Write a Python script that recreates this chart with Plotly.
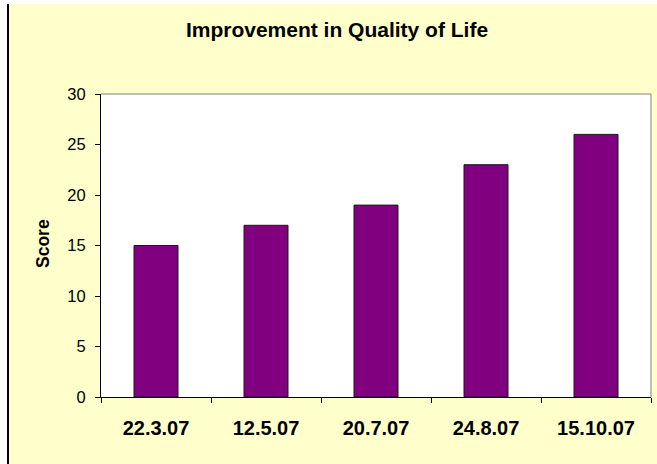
import plotly.graph_objects as go

# chart data
dates = ['22.3.07', '12.5.07', '20.7.07', '24.8.07', '15.10.07']
scores = [15, 17, 19, 23, 26]
y_ticks = [0, 5, 10, 15, 20, 25, 30]

W, H = 657, 464
L, R, T, B = 101, 6, 94, 67
pw = W - L - R
ph = H - T - B

def px_x(x):
    return (x - L) / pw

def px_y(y):
    return (H - B - y) / ph

FONT = 'Liberation Sans, Arial, sans-serif'

fig = go.Figure()

fig.add_trace(go.Bar(
    x=dates, y=scores,
    marker=dict(color='#800080', line=dict(color='#1a1a1a', width=1)),
    width=0.4,
))

shapes = [
    # white strip above / left of the chart frame
    dict(type='rect', xref='paper', yref='paper', layer='below',
         x0=px_x(0), x1=px_x(W), y0=px_y(0), y1=px_y(4),
         fillcolor='white', line_width=0),
    dict(type='rect', xref='paper', yref='paper', layer='below',
         x0=px_x(0), x1=px_x(8), y0=px_y(0), y1=px_y(H),
         fillcolor='white', line_width=0),
    # black left frame line
    dict(type='line', xref='paper', yref='paper',
         x0=px_x(8), x1=px_x(8), y0=px_y(4), y1=px_y(H),
         line=dict(color='black', width=2)),
    # gray top/right plot border
    dict(type='line', xref='paper', yref='paper',
         x0=0, x1=1, y0=1, y1=1, line=dict(color='#808080', width=1)),
    dict(type='line', xref='paper', yref='paper',
         x0=1, x1=1, y0=0, y1=1, line=dict(color='#808080', width=1)),
]

annotations = [
    dict(text='<b>Score</b>', xref='paper', yref='paper',
         x=px_x(43), y=px_y(244), showarrow=False, textangle=-90,
         xanchor='center', yanchor='middle',
         font=dict(size=17.5, family=FONT, color='black')),
]

fig.update_layout(
    width=W, height=H,
    margin=dict(l=L, r=R, t=T, b=B),
    paper_bgcolor='#FFFFCC',
    plot_bgcolor='white',
    showlegend=False,
    bargap=0.6,
    shapes=shapes,
    annotations=annotations,
    font=dict(family=FONT, color='black'),
    title=dict(text='<b>Improvement in Quality of Life</b>',
               x=px_x(337), xref='paper', xanchor='center',
               y=1 - 30 / H, yanchor='middle',
               font=dict(size=21, color='black')),
    xaxis=dict(
        showline=True, linecolor='black', linewidth=1,
        ticks='outside', ticklen=5, tickcolor='black',
        tickson='boundaries',
        tickfont=dict(size=20, family=FONT),
        tickprefix='<b>', ticksuffix='</b>',
        ticklabelstandoff=13,
        showgrid=False, fixedrange=True,
    ),
    yaxis=dict(
        range=[0, 30], tickvals=y_ticks,
        showline=True, linecolor='black', linewidth=1,
        ticks='outside', ticklen=5, tickcolor='black',
        tickfont=dict(size=16.5),
        ticklabelstandoff=6,
        showgrid=False, zeroline=False,
    ),
)

fig.write_html("out.html", config={'displayModeBar': False},
               post_script="document.body.style.margin='0';")
